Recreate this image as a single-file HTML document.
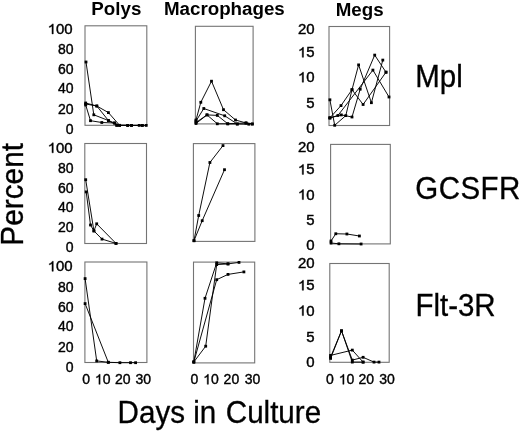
<!DOCTYPE html><html><head><meta charset="utf-8"><style>html,body{margin:0;padding:0;background:#fff;width:520px;height:431px;overflow:hidden}svg{display:block}#w{will-change:transform;width:520px;height:431px}text{font-family:"Liberation Sans",sans-serif;fill:#000}</style></head><body>
<div id="w">
<svg width="520" height="431" viewBox="0 0 520 431">
<rect x="85.0" y="25.8" width="61.8" height="99.5" fill="none" stroke="#747474" stroke-width="1.1"/>
<rect x="195.4" y="26.3" width="57.7" height="97.6" fill="none" stroke="#747474" stroke-width="1.1"/>
<rect x="329.0" y="26.5" width="60.6" height="99.0" fill="none" stroke="#747474" stroke-width="1.1"/>
<rect x="84.8" y="143.5" width="61.7" height="100.0" fill="none" stroke="#747474" stroke-width="1.1"/>
<rect x="193.4" y="143.6" width="61.5" height="97.8" fill="none" stroke="#747474" stroke-width="1.1"/>
<rect x="330.6" y="144.4" width="59.7" height="99.5" fill="none" stroke="#747474" stroke-width="1.1"/>
<rect x="84.9" y="262.0" width="62.0" height="100.5" fill="none" stroke="#747474" stroke-width="1.1"/>
<rect x="193.5" y="262.1" width="61.2" height="100.8" fill="none" stroke="#747474" stroke-width="1.1"/>
<rect x="329.8" y="263.5" width="59.4" height="98.8" fill="none" stroke="#747474" stroke-width="1.1"/>
<polyline points="86,62 93.8,114.8 108.4,120.5 114.5,123 116.8,125.3 127.7,125.4 131.5,125.4" fill="none" stroke="#000" stroke-width="0.95" stroke-linejoin="round"/>
<rect x="84.60" y="60.60" width="2.8" height="2.8" fill="#000"/>
<rect x="92.40" y="113.40" width="2.8" height="2.8" fill="#000"/>
<rect x="107.00" y="119.10" width="2.8" height="2.8" fill="#000"/>
<rect x="113.10" y="121.60" width="2.8" height="2.8" fill="#000"/>
<rect x="115.40" y="123.90" width="2.8" height="2.8" fill="#000"/>
<rect x="126.30" y="124.00" width="2.8" height="2.8" fill="#000"/>
<rect x="130.10" y="124.00" width="2.8" height="2.8" fill="#000"/>
<polyline points="85.7,105 90.5,120.7 101.8,122.5 114.5,123 119.6,125.4 139.2,125.4 142.3,125.4" fill="none" stroke="#000" stroke-width="0.95" stroke-linejoin="round"/>
<rect x="84.30" y="103.60" width="2.8" height="2.8" fill="#000"/>
<rect x="89.10" y="119.30" width="2.8" height="2.8" fill="#000"/>
<rect x="100.40" y="121.10" width="2.8" height="2.8" fill="#000"/>
<rect x="113.10" y="121.60" width="2.8" height="2.8" fill="#000"/>
<rect x="118.20" y="124.00" width="2.8" height="2.8" fill="#000"/>
<rect x="137.80" y="124.00" width="2.8" height="2.8" fill="#000"/>
<rect x="140.90" y="124.00" width="2.8" height="2.8" fill="#000"/>
<polyline points="85.7,103 96.8,106 108.4,112.6 119.6,125.3 131.5,125.4 146.2,125.4" fill="none" stroke="#000" stroke-width="0.95" stroke-linejoin="round"/>
<rect x="84.30" y="101.60" width="2.8" height="2.8" fill="#000"/>
<rect x="95.40" y="104.60" width="2.8" height="2.8" fill="#000"/>
<rect x="107.00" y="111.20" width="2.8" height="2.8" fill="#000"/>
<rect x="118.20" y="123.90" width="2.8" height="2.8" fill="#000"/>
<rect x="130.10" y="124.00" width="2.8" height="2.8" fill="#000"/>
<rect x="144.80" y="124.00" width="2.8" height="2.8" fill="#000"/>
<polyline points="85.7,104 96.8,106 108.4,120.5 116.8,125.3 127.7,125.4 142.3,125.4" fill="none" stroke="#000" stroke-width="0.95" stroke-linejoin="round"/>
<rect x="84.30" y="102.60" width="2.8" height="2.8" fill="#000"/>
<rect x="95.40" y="104.60" width="2.8" height="2.8" fill="#000"/>
<rect x="107.00" y="119.10" width="2.8" height="2.8" fill="#000"/>
<rect x="115.40" y="123.90" width="2.8" height="2.8" fill="#000"/>
<rect x="126.30" y="124.00" width="2.8" height="2.8" fill="#000"/>
<rect x="140.90" y="124.00" width="2.8" height="2.8" fill="#000"/>
<polyline points="196,120 200.8,102.3 211.5,81.2 223.5,109.7 235.5,120 246.2,123 252.3,124" fill="none" stroke="#000" stroke-width="0.95" stroke-linejoin="round"/>
<rect x="194.60" y="118.60" width="2.8" height="2.8" fill="#000"/>
<rect x="199.40" y="100.90" width="2.8" height="2.8" fill="#000"/>
<rect x="210.10" y="79.80" width="2.8" height="2.8" fill="#000"/>
<rect x="222.10" y="108.30" width="2.8" height="2.8" fill="#000"/>
<rect x="234.10" y="118.60" width="2.8" height="2.8" fill="#000"/>
<rect x="244.80" y="121.60" width="2.8" height="2.8" fill="#000"/>
<rect x="250.90" y="122.60" width="2.8" height="2.8" fill="#000"/>
<polyline points="196,121 203.8,108.5 224.7,115.8 237.3,124 248.8,124.2" fill="none" stroke="#000" stroke-width="0.95" stroke-linejoin="round"/>
<rect x="194.60" y="119.60" width="2.8" height="2.8" fill="#000"/>
<rect x="202.40" y="107.10" width="2.8" height="2.8" fill="#000"/>
<rect x="223.30" y="114.40" width="2.8" height="2.8" fill="#000"/>
<rect x="235.90" y="122.60" width="2.8" height="2.8" fill="#000"/>
<rect x="247.40" y="122.80" width="2.8" height="2.8" fill="#000"/>
<polyline points="196,123.5 207,114.9 217.3,123.8 227.7,123.8 237.3,124" fill="none" stroke="#000" stroke-width="0.95" stroke-linejoin="round"/>
<rect x="194.60" y="122.10" width="2.8" height="2.8" fill="#000"/>
<rect x="205.60" y="113.50" width="2.8" height="2.8" fill="#000"/>
<rect x="215.90" y="122.40" width="2.8" height="2.8" fill="#000"/>
<rect x="226.30" y="122.40" width="2.8" height="2.8" fill="#000"/>
<rect x="235.90" y="122.60" width="2.8" height="2.8" fill="#000"/>
<polyline points="196,122.5 207,114.9 217.3,115.4 227.8,123.8 245.8,122.9 252.3,124" fill="none" stroke="#000" stroke-width="0.95" stroke-linejoin="round"/>
<rect x="194.60" y="121.10" width="2.8" height="2.8" fill="#000"/>
<rect x="205.60" y="113.50" width="2.8" height="2.8" fill="#000"/>
<rect x="215.90" y="114.00" width="2.8" height="2.8" fill="#000"/>
<rect x="226.40" y="122.40" width="2.8" height="2.8" fill="#000"/>
<rect x="244.40" y="121.50" width="2.8" height="2.8" fill="#000"/>
<rect x="250.90" y="122.60" width="2.8" height="2.8" fill="#000"/>
<polyline points="329.9,99.8 334.7,125.3 345.8,115.6 352,89.7 363.1,104.5 386,72.2" fill="none" stroke="#000" stroke-width="0.95" stroke-linejoin="round"/>
<rect x="328.50" y="98.40" width="2.8" height="2.8" fill="#000"/>
<rect x="333.30" y="123.90" width="2.8" height="2.8" fill="#000"/>
<rect x="344.40" y="114.20" width="2.8" height="2.8" fill="#000"/>
<rect x="350.60" y="88.30" width="2.8" height="2.8" fill="#000"/>
<rect x="361.70" y="103.10" width="2.8" height="2.8" fill="#000"/>
<rect x="384.60" y="70.80" width="2.8" height="2.8" fill="#000"/>
<polyline points="329.9,117.9 341,105.6 352,89.7 358.6,64.9 371.4,102.7 382.8,60.1" fill="none" stroke="#000" stroke-width="0.95" stroke-linejoin="round"/>
<rect x="328.50" y="116.50" width="2.8" height="2.8" fill="#000"/>
<rect x="339.60" y="104.20" width="2.8" height="2.8" fill="#000"/>
<rect x="350.60" y="88.30" width="2.8" height="2.8" fill="#000"/>
<rect x="357.20" y="63.50" width="2.8" height="2.8" fill="#000"/>
<rect x="370.00" y="101.30" width="2.8" height="2.8" fill="#000"/>
<rect x="381.40" y="58.70" width="2.8" height="2.8" fill="#000"/>
<polyline points="329.9,117.9 341.3,114.9 352,117 360.2,89.2 374.7,55.1 386,72.2" fill="none" stroke="#000" stroke-width="0.95" stroke-linejoin="round"/>
<rect x="328.50" y="116.50" width="2.8" height="2.8" fill="#000"/>
<rect x="339.90" y="113.50" width="2.8" height="2.8" fill="#000"/>
<rect x="350.60" y="115.60" width="2.8" height="2.8" fill="#000"/>
<rect x="358.80" y="87.80" width="2.8" height="2.8" fill="#000"/>
<rect x="373.30" y="53.70" width="2.8" height="2.8" fill="#000"/>
<rect x="384.60" y="70.80" width="2.8" height="2.8" fill="#000"/>
<polyline points="329.9,117.9 337.9,115.5 372.9,70.1 389,97" fill="none" stroke="#000" stroke-width="0.95" stroke-linejoin="round"/>
<rect x="328.50" y="116.50" width="2.8" height="2.8" fill="#000"/>
<rect x="336.50" y="114.10" width="2.8" height="2.8" fill="#000"/>
<rect x="371.50" y="68.70" width="2.8" height="2.8" fill="#000"/>
<rect x="387.60" y="95.60" width="2.8" height="2.8" fill="#000"/>
<polyline points="85.7,179.7 93.9,230.9 102,239.1 116,243.4" fill="none" stroke="#000" stroke-width="0.95" stroke-linejoin="round"/>
<rect x="84.30" y="178.30" width="2.8" height="2.8" fill="#000"/>
<rect x="92.50" y="229.50" width="2.8" height="2.8" fill="#000"/>
<rect x="100.60" y="237.70" width="2.8" height="2.8" fill="#000"/>
<rect x="114.60" y="242.00" width="2.8" height="2.8" fill="#000"/>
<polyline points="86.2,191.9 90.5,225 93.9,230.9 96.7,223.8 116,243.4" fill="none" stroke="#000" stroke-width="0.95" stroke-linejoin="round"/>
<rect x="84.80" y="190.50" width="2.8" height="2.8" fill="#000"/>
<rect x="89.10" y="223.60" width="2.8" height="2.8" fill="#000"/>
<rect x="92.50" y="229.50" width="2.8" height="2.8" fill="#000"/>
<rect x="95.30" y="222.40" width="2.8" height="2.8" fill="#000"/>
<rect x="114.60" y="242.00" width="2.8" height="2.8" fill="#000"/>
<polyline points="194,240.7 198.7,215.5 209.9,162.5 223,145.6" fill="none" stroke="#000" stroke-width="0.95" stroke-linejoin="round"/>
<rect x="192.60" y="239.30" width="2.8" height="2.8" fill="#000"/>
<rect x="197.30" y="214.10" width="2.8" height="2.8" fill="#000"/>
<rect x="208.50" y="161.10" width="2.8" height="2.8" fill="#000"/>
<rect x="221.60" y="144.20" width="2.8" height="2.8" fill="#000"/>
<polyline points="194,240.7 202.2,220.7 224.5,169.7" fill="none" stroke="#000" stroke-width="0.95" stroke-linejoin="round"/>
<rect x="192.60" y="239.30" width="2.8" height="2.8" fill="#000"/>
<rect x="200.80" y="219.30" width="2.8" height="2.8" fill="#000"/>
<rect x="223.10" y="168.30" width="2.8" height="2.8" fill="#000"/>
<polyline points="331,241 335.8,233.75 346.9,234 359.4,236" fill="none" stroke="#000" stroke-width="0.95" stroke-linejoin="round"/>
<rect x="329.60" y="239.60" width="2.8" height="2.8" fill="#000"/>
<rect x="334.40" y="232.35" width="2.8" height="2.8" fill="#000"/>
<rect x="345.50" y="232.60" width="2.8" height="2.8" fill="#000"/>
<rect x="358.00" y="234.60" width="2.8" height="2.8" fill="#000"/>
<polyline points="331,243 338.9,243.8 361.1,244" fill="none" stroke="#000" stroke-width="0.95" stroke-linejoin="round"/>
<rect x="329.60" y="241.60" width="2.8" height="2.8" fill="#000"/>
<rect x="337.50" y="242.40" width="2.8" height="2.8" fill="#000"/>
<rect x="359.70" y="242.60" width="2.8" height="2.8" fill="#000"/>
<polyline points="85.1,278.6 96.7,360.9 108.3,362.3" fill="none" stroke="#000" stroke-width="0.95" stroke-linejoin="round"/>
<rect x="83.70" y="277.20" width="2.8" height="2.8" fill="#000"/>
<rect x="95.30" y="359.50" width="2.8" height="2.8" fill="#000"/>
<rect x="106.90" y="360.90" width="2.8" height="2.8" fill="#000"/>
<polyline points="85.1,303.6 108.3,362.3 119.9,362.7 130.5,362.7 135.6,362.7" fill="none" stroke="#000" stroke-width="0.95" stroke-linejoin="round"/>
<rect x="83.70" y="302.20" width="2.8" height="2.8" fill="#000"/>
<rect x="106.90" y="360.90" width="2.8" height="2.8" fill="#000"/>
<rect x="118.50" y="361.30" width="2.8" height="2.8" fill="#000"/>
<rect x="129.10" y="361.30" width="2.8" height="2.8" fill="#000"/>
<rect x="134.20" y="361.30" width="2.8" height="2.8" fill="#000"/>
<polyline points="193.8,362 205,298.3 216.7,262.8 228,263.9 239,262.4" fill="none" stroke="#000" stroke-width="0.95" stroke-linejoin="round"/>
<rect x="192.40" y="360.60" width="2.8" height="2.8" fill="#000"/>
<rect x="203.60" y="296.90" width="2.8" height="2.8" fill="#000"/>
<rect x="215.30" y="261.40" width="2.8" height="2.8" fill="#000"/>
<rect x="226.60" y="262.50" width="2.8" height="2.8" fill="#000"/>
<rect x="237.60" y="261.00" width="2.8" height="2.8" fill="#000"/>
<polyline points="193.8,362 216.7,279.7 228,274.4 243.9,271.9" fill="none" stroke="#000" stroke-width="0.95" stroke-linejoin="round"/>
<rect x="192.40" y="360.60" width="2.8" height="2.8" fill="#000"/>
<rect x="215.30" y="278.30" width="2.8" height="2.8" fill="#000"/>
<rect x="226.60" y="273.00" width="2.8" height="2.8" fill="#000"/>
<rect x="242.50" y="270.50" width="2.8" height="2.8" fill="#000"/>
<polyline points="193.8,362 205.7,346.2 216.7,264.6 228,263.9" fill="none" stroke="#000" stroke-width="0.95" stroke-linejoin="round"/>
<rect x="192.40" y="360.60" width="2.8" height="2.8" fill="#000"/>
<rect x="204.30" y="344.80" width="2.8" height="2.8" fill="#000"/>
<rect x="215.30" y="263.20" width="2.8" height="2.8" fill="#000"/>
<rect x="226.60" y="262.50" width="2.8" height="2.8" fill="#000"/>
<polyline points="330.6,358.4 341.5,330.8 352.3,362.1 363.1,362.1" fill="none" stroke="#000" stroke-width="0.95" stroke-linejoin="round"/>
<rect x="329.20" y="357.00" width="2.8" height="2.8" fill="#000"/>
<rect x="340.10" y="329.40" width="2.8" height="2.8" fill="#000"/>
<rect x="350.90" y="360.70" width="2.8" height="2.8" fill="#000"/>
<rect x="361.70" y="360.70" width="2.8" height="2.8" fill="#000"/>
<polyline points="330.6,357 341.5,330.8 352.3,360.1 363.1,357.3 374,362.1 379,362.1" fill="none" stroke="#000" stroke-width="0.95" stroke-linejoin="round"/>
<rect x="329.20" y="355.60" width="2.8" height="2.8" fill="#000"/>
<rect x="340.10" y="329.40" width="2.8" height="2.8" fill="#000"/>
<rect x="350.90" y="358.70" width="2.8" height="2.8" fill="#000"/>
<rect x="361.70" y="355.90" width="2.8" height="2.8" fill="#000"/>
<rect x="372.60" y="360.70" width="2.8" height="2.8" fill="#000"/>
<rect x="377.60" y="360.70" width="2.8" height="2.8" fill="#000"/>
<polyline points="330.6,355.4 352.3,350.1 363.1,362.1" fill="none" stroke="#000" stroke-width="0.95" stroke-linejoin="round"/>
<rect x="329.20" y="354.00" width="2.8" height="2.8" fill="#000"/>
<rect x="350.90" y="348.70" width="2.8" height="2.8" fill="#000"/>
<rect x="361.70" y="360.70" width="2.8" height="2.8" fill="#000"/>
<g transform="translate(72.69999999999999,0) scale(1.07,1) translate(-72.69999999999999,0)">
<path d="M54.56,33.90 L53.33,33.90 L53.33,26.06 L52.89,26.48 L52.16,26.91 L51.47,27.23 L50.84,27.47 L50.84,26.28 L51.97,25.75 L52.81,25.00 L53.40,24.42 L53.74,23.88 L54.56,23.88Z" fill="#000" stroke="#000" stroke-width="0.4" stroke-linejoin="round"/>
<text x="57.13" y="33.90" font-size="14" stroke="#000" stroke-width="0.4">0</text>
<text x="64.92" y="33.90" font-size="14" stroke="#000" stroke-width="0.4">0</text>
</g>
<text x="58.03" y="54.05" font-size="14" stroke="#000" stroke-width="0.4">8</text>
<text x="65.82" y="54.05" font-size="14" stroke="#000" stroke-width="0.4">0</text>
<text x="58.03" y="74.30" font-size="14" stroke="#000" stroke-width="0.4">6</text>
<text x="65.82" y="74.30" font-size="14" stroke="#000" stroke-width="0.4">0</text>
<text x="58.03" y="93.20" font-size="14" stroke="#000" stroke-width="0.4">4</text>
<text x="65.82" y="93.20" font-size="14" stroke="#000" stroke-width="0.4">0</text>
<text x="58.03" y="113.60" font-size="14" stroke="#000" stroke-width="0.4">2</text>
<text x="65.82" y="113.60" font-size="14" stroke="#000" stroke-width="0.4">0</text>
<text x="65.82" y="134.00" font-size="14" stroke="#000" stroke-width="0.4">0</text>
<g transform="translate(72.69999999999999,0) scale(1.07,1) translate(-72.69999999999999,0)">
<path d="M54.56,152.80 L53.33,152.80 L53.33,144.96 L52.89,145.38 L52.16,145.81 L51.47,146.13 L50.84,146.37 L50.84,145.18 L51.97,144.65 L52.81,143.90 L53.40,143.32 L53.74,142.78 L54.56,142.78Z" fill="#000" stroke="#000" stroke-width="0.4" stroke-linejoin="round"/>
<text x="57.13" y="152.80" font-size="14" stroke="#000" stroke-width="0.4">0</text>
<text x="64.92" y="152.80" font-size="14" stroke="#000" stroke-width="0.4">0</text>
</g>
<text x="58.03" y="172.80" font-size="14" stroke="#000" stroke-width="0.4">8</text>
<text x="65.82" y="172.80" font-size="14" stroke="#000" stroke-width="0.4">0</text>
<text x="58.03" y="193.00" font-size="14" stroke="#000" stroke-width="0.4">6</text>
<text x="65.82" y="193.00" font-size="14" stroke="#000" stroke-width="0.4">0</text>
<text x="58.03" y="212.40" font-size="14" stroke="#000" stroke-width="0.4">4</text>
<text x="65.82" y="212.40" font-size="14" stroke="#000" stroke-width="0.4">0</text>
<text x="58.03" y="232.00" font-size="14" stroke="#000" stroke-width="0.4">2</text>
<text x="65.82" y="232.00" font-size="14" stroke="#000" stroke-width="0.4">0</text>
<text x="65.82" y="252.00" font-size="14" stroke="#000" stroke-width="0.4">0</text>
<g transform="translate(72.69999999999999,0) scale(1.07,1) translate(-72.69999999999999,0)">
<path d="M54.56,271.30 L53.33,271.30 L53.33,263.46 L52.89,263.88 L52.16,264.31 L51.47,264.63 L50.84,264.87 L50.84,263.68 L51.97,263.15 L52.81,262.40 L53.40,261.82 L53.74,261.28 L54.56,261.28Z" fill="#000" stroke="#000" stroke-width="0.4" stroke-linejoin="round"/>
<text x="57.13" y="271.30" font-size="14" stroke="#000" stroke-width="0.4">0</text>
<text x="64.92" y="271.30" font-size="14" stroke="#000" stroke-width="0.4">0</text>
</g>
<text x="58.03" y="292.00" font-size="14" stroke="#000" stroke-width="0.4">8</text>
<text x="65.82" y="292.00" font-size="14" stroke="#000" stroke-width="0.4">0</text>
<text x="58.03" y="312.30" font-size="14" stroke="#000" stroke-width="0.4">6</text>
<text x="65.82" y="312.30" font-size="14" stroke="#000" stroke-width="0.4">0</text>
<text x="58.03" y="330.60" font-size="14" stroke="#000" stroke-width="0.4">4</text>
<text x="65.82" y="330.60" font-size="14" stroke="#000" stroke-width="0.4">0</text>
<text x="58.03" y="351.50" font-size="14" stroke="#000" stroke-width="0.4">2</text>
<text x="65.82" y="351.50" font-size="14" stroke="#000" stroke-width="0.4">0</text>
<text x="65.82" y="372.10" font-size="14" stroke="#000" stroke-width="0.4">0</text>
<g transform="translate(314.6,0) scale(1.07,1) translate(-314.6,0)">
<text x="299.03" y="34.30" font-size="14" stroke="#000" stroke-width="0.4">2</text>
<text x="306.82" y="34.30" font-size="14" stroke="#000" stroke-width="0.4">0</text>
</g>
<g transform="translate(314.6,0) scale(1.07,1) translate(-314.6,0)">
<path d="M304.25,57.30 L303.02,57.30 L303.02,49.46 L302.57,49.88 L301.85,50.31 L301.15,50.63 L300.53,50.87 L300.53,49.68 L301.65,49.15 L302.49,48.40 L303.09,47.82 L303.42,47.28 L304.25,47.28Z" fill="#000" stroke="#000" stroke-width="0.4" stroke-linejoin="round"/>
<text x="306.82" y="57.30" font-size="14" stroke="#000" stroke-width="0.4">5</text>
</g>
<g transform="translate(314.6,0) scale(1.07,1) translate(-314.6,0)">
<path d="M304.25,82.20 L303.02,82.20 L303.02,74.36 L302.57,74.78 L301.85,75.21 L301.15,75.53 L300.53,75.77 L300.53,74.58 L301.65,74.05 L302.49,73.30 L303.09,72.72 L303.42,72.18 L304.25,72.18Z" fill="#000" stroke="#000" stroke-width="0.4" stroke-linejoin="round"/>
<text x="306.82" y="82.20" font-size="14" stroke="#000" stroke-width="0.4">0</text>
</g>
<g transform="translate(314.6,0) scale(1.07,1) translate(-314.6,0)">
<text x="306.82" y="107.80" font-size="14" stroke="#000" stroke-width="0.4">5</text>
</g>
<g transform="translate(314.6,0) scale(1.07,1) translate(-314.6,0)">
<text x="306.82" y="133.30" font-size="14" stroke="#000" stroke-width="0.4">0</text>
</g>
<g transform="translate(314.6,0) scale(1.07,1) translate(-314.6,0)">
<text x="299.03" y="152.00" font-size="14" stroke="#000" stroke-width="0.4">2</text>
<text x="306.82" y="152.00" font-size="14" stroke="#000" stroke-width="0.4">0</text>
</g>
<g transform="translate(314.6,0) scale(1.07,1) translate(-314.6,0)">
<path d="M304.25,174.40 L303.02,174.40 L303.02,166.56 L302.57,166.98 L301.85,167.41 L301.15,167.73 L300.53,167.97 L300.53,166.78 L301.65,166.25 L302.49,165.50 L303.09,164.92 L303.42,164.38 L304.25,164.38Z" fill="#000" stroke="#000" stroke-width="0.4" stroke-linejoin="round"/>
<text x="306.82" y="174.40" font-size="14" stroke="#000" stroke-width="0.4">5</text>
</g>
<g transform="translate(314.6,0) scale(1.07,1) translate(-314.6,0)">
<path d="M304.25,199.60 L303.02,199.60 L303.02,191.76 L302.57,192.18 L301.85,192.61 L301.15,192.93 L300.53,193.17 L300.53,191.98 L301.65,191.45 L302.49,190.70 L303.09,190.12 L303.42,189.58 L304.25,189.58Z" fill="#000" stroke="#000" stroke-width="0.4" stroke-linejoin="round"/>
<text x="306.82" y="199.60" font-size="14" stroke="#000" stroke-width="0.4">0</text>
</g>
<g transform="translate(314.6,0) scale(1.07,1) translate(-314.6,0)">
<text x="306.82" y="225.40" font-size="14" stroke="#000" stroke-width="0.4">5</text>
</g>
<g transform="translate(314.6,0) scale(1.07,1) translate(-314.6,0)">
<text x="306.82" y="250.30" font-size="14" stroke="#000" stroke-width="0.4">0</text>
</g>
<g transform="translate(314.6,0) scale(1.07,1) translate(-314.6,0)">
<text x="299.03" y="267.80" font-size="14" stroke="#000" stroke-width="0.4">2</text>
<text x="306.82" y="267.80" font-size="14" stroke="#000" stroke-width="0.4">0</text>
</g>
<g transform="translate(314.6,0) scale(1.07,1) translate(-314.6,0)">
<path d="M304.25,290.30 L303.02,290.30 L303.02,282.46 L302.57,282.88 L301.85,283.31 L301.15,283.63 L300.53,283.87 L300.53,282.68 L301.65,282.15 L302.49,281.40 L303.09,280.82 L303.42,280.28 L304.25,280.28Z" fill="#000" stroke="#000" stroke-width="0.4" stroke-linejoin="round"/>
<text x="306.82" y="290.30" font-size="14" stroke="#000" stroke-width="0.4">5</text>
</g>
<g transform="translate(314.6,0) scale(1.07,1) translate(-314.6,0)">
<path d="M304.25,315.60 L303.02,315.60 L303.02,307.76 L302.57,308.18 L301.85,308.61 L301.15,308.93 L300.53,309.17 L300.53,307.98 L301.65,307.45 L302.49,306.70 L303.09,306.12 L303.42,305.58 L304.25,305.58Z" fill="#000" stroke="#000" stroke-width="0.4" stroke-linejoin="round"/>
<text x="306.82" y="315.60" font-size="14" stroke="#000" stroke-width="0.4">0</text>
</g>
<g transform="translate(314.6,0) scale(1.07,1) translate(-314.6,0)">
<text x="306.82" y="341.60" font-size="14" stroke="#000" stroke-width="0.4">5</text>
</g>
<g transform="translate(314.6,0) scale(1.07,1) translate(-314.6,0)">
<text x="306.82" y="367.00" font-size="14" stroke="#000" stroke-width="0.4">0</text>
</g>
<text x="82.31" y="384.30" font-size="14" stroke="#000" stroke-width="0.4">0</text>
<path d="M100.13,384.30 L98.90,384.30 L98.90,376.46 L98.46,376.88 L97.73,377.31 L97.04,377.63 L96.41,377.87 L96.41,376.68 L97.53,376.15 L98.37,375.40 L98.97,374.82 L99.30,374.28 L100.13,374.28Z" fill="#000" stroke="#000" stroke-width="0.4" stroke-linejoin="round"/>
<text x="102.70" y="384.30" font-size="14" stroke="#000" stroke-width="0.4">0</text>
<text x="114.92" y="384.30" font-size="14" stroke="#000" stroke-width="0.4">2</text>
<text x="122.70" y="384.30" font-size="14" stroke="#000" stroke-width="0.4">0</text>
<text x="135.42" y="384.30" font-size="14" stroke="#000" stroke-width="0.4">3</text>
<text x="143.20" y="384.30" font-size="14" stroke="#000" stroke-width="0.4">0</text>
<text x="190.61" y="384.30" font-size="14" stroke="#000" stroke-width="0.4">0</text>
<path d="M208.43,384.30 L207.20,384.30 L207.20,376.46 L206.76,376.88 L206.03,377.31 L205.34,377.63 L204.71,377.87 L204.71,376.68 L205.83,376.15 L206.67,375.40 L207.27,374.82 L207.61,374.28 L208.43,374.28Z" fill="#000" stroke="#000" stroke-width="0.4" stroke-linejoin="round"/>
<text x="211.00" y="384.30" font-size="14" stroke="#000" stroke-width="0.4">0</text>
<text x="223.62" y="384.30" font-size="14" stroke="#000" stroke-width="0.4">2</text>
<text x="231.40" y="384.30" font-size="14" stroke="#000" stroke-width="0.4">0</text>
<text x="244.72" y="384.30" font-size="14" stroke="#000" stroke-width="0.4">3</text>
<text x="252.50" y="384.30" font-size="14" stroke="#000" stroke-width="0.4">0</text>
<text x="326.01" y="384.30" font-size="14" stroke="#000" stroke-width="0.4">0</text>
<path d="M344.03,384.30 L342.80,384.30 L342.80,376.46 L342.36,376.88 L341.63,377.31 L340.94,377.63 L340.31,377.87 L340.31,376.68 L341.43,376.15 L342.27,375.40 L342.87,374.82 L343.21,374.28 L344.03,374.28Z" fill="#000" stroke="#000" stroke-width="0.4" stroke-linejoin="round"/>
<text x="346.60" y="384.30" font-size="14" stroke="#000" stroke-width="0.4">0</text>
<text x="358.42" y="384.30" font-size="14" stroke="#000" stroke-width="0.4">2</text>
<text x="366.20" y="384.30" font-size="14" stroke="#000" stroke-width="0.4">0</text>
<text x="379.22" y="384.30" font-size="14" stroke="#000" stroke-width="0.4">3</text>
<text x="387.00" y="384.30" font-size="14" stroke="#000" stroke-width="0.4">0</text>
<text x="116.35" y="15" font-size="18.75" font-weight="bold" text-anchor="middle">Polys</text>
<text x="224.35" y="15.2" font-size="18.75" font-weight="bold" text-anchor="middle">Macrophages</text>
<text x="359.6" y="15.9" font-size="18.75" font-weight="bold" text-anchor="middle">Megs</text>
<text transform="translate(415.3,87.0) scale(1,1.045)" font-size="29.5" stroke="#000" stroke-width="0.3">Mpl</text>
<text transform="translate(415.3,198.8) scale(1,1.045)" font-size="29.5" letter-spacing="0.45" stroke="#000" stroke-width="0.3">GCSFR</text>
<text transform="translate(415.4,315.6) scale(1,1.045)" font-size="29.5" stroke="#000" stroke-width="0.3">Flt-3R</text>
<text transform="translate(22.7,194.3) rotate(-90) scale(1,1.045)" font-size="29.8" text-anchor="middle" stroke="#000" stroke-width="0.3">Percent</text>
<text transform="translate(117.6,422.9) scale(1,1.03)" font-size="29.6" stroke="#000" stroke-width="0.3">Days in <tspan dx="1.3">Culture</tspan></text>
</svg></div></body></html>
